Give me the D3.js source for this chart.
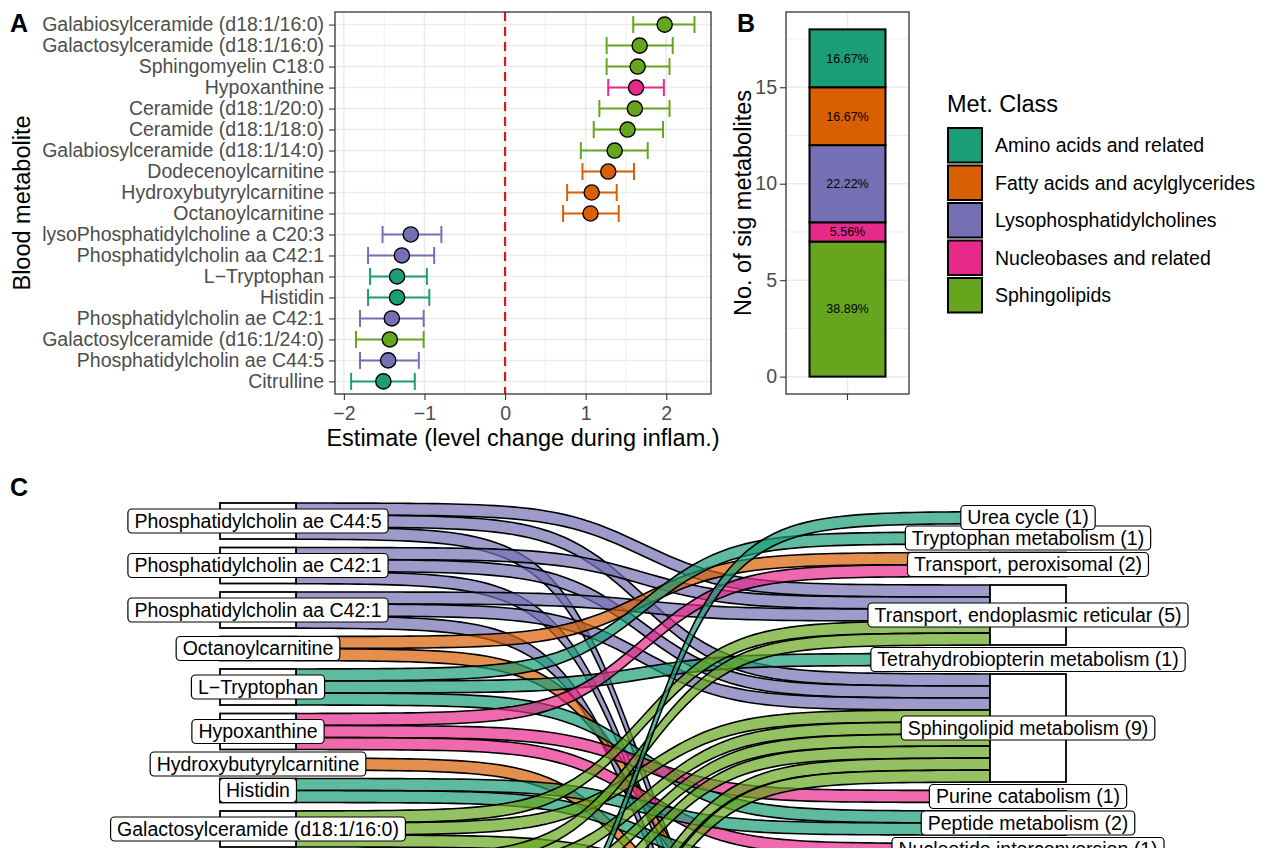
<!DOCTYPE html>
<html>
<head>
<meta charset="utf-8">
<script src="https://cdn.jsdelivr.net/npm/d3@7"></script>
<style>
body{margin:0;background:#fff;}
svg text{font-family:"Liberation Sans",Arial,Helvetica,sans-serif;}
</style>
</head>
<body>
<svg id="fig" width="1280" height="848"></svg>
<script>
// ---- classes (Dark2)
const classKeys = ['AA','FA','LPC','NB','SL'];
const classNames = ['Amino acids and related','Fatty acids and acylglycerides','Lysophosphatidylcholines','Nucleobases and related','Sphingolipids'];
const classColors = ['#1B9E77','#D95F02','#7570B3','#E7298A','#66A61E'];
const colorOf = k => classColors[classKeys.indexOf(k)];

// ---- panel A data (top to bottom)
const metabolites = ['Galabiosylceramide (d18:1/16:0)','Galactosylceramide (d18:1/16:0)','Sphingomyelin C18:0','Hypoxanthine',
  'Ceramide (d18:1/20:0)','Ceramide (d18:1/18:0)','Galabiosylceramide (d18:1/14:0)','Dodecenoylcarnitine',
  'Hydroxybutyrylcarnitine','Octanoylcarnitine','lysoPhosphatidylcholine a C20:3','Phosphatidylcholin aa C42:1',
  'L\u2212Tryptophan','Histidin','Phosphatidylcholin ae C42:1','Galactosylceramide (d16:1/24:0)',
  'Phosphatidylcholin ae C44:5','Citrulline'];
const metClass = ['SL','SL','SL','NB','SL','SL','SL','FA','FA','FA','LPC','LPC','AA','AA','LPC','SL','LPC','AA'];
const estimate = [1.98,1.67,1.645,1.625,1.61,1.52,1.36,1.28,1.075,1.06,-1.17,-1.28,-1.34,-1.34,-1.405,-1.43,-1.45,-1.51];
const ciLow    = [1.59,1.26,1.26,1.28,1.17,1.10,0.94,0.96,0.77,0.72,-1.52,-1.70,-1.675,-1.70,-1.80,-1.85,-1.80,-1.91];
const ciHigh   = [2.35,2.08,2.04,1.97,2.04,1.96,1.77,1.60,1.385,1.41,-0.79,-0.88,-0.97,-0.94,-1.01,-1.01,-1.07,-1.12];
const xTicksA = [-2,-1,0,1,2];
const xMinorA = [-1.5,-0.5,0.5,1.5,2.5];

// ---- panel B data
const classCounts = [3,3,4,1,7];
const yTicksB = [0,5,10,15];
const yMinorB = [2.5,7.5,12.5,17.5];

// ---- panel C data
const leftNodes = ['Phosphatidylcholin ae C44:5','Phosphatidylcholin ae C42:1','Phosphatidylcholin aa C42:1','Octanoylcarnitine',
  'L\u2212Tryptophan','Hypoxanthine','Hydroxybutyrylcarnitine','Histidin','Galactosylceramide (d18:1/16:0)',
  'Galactosylceramide (d16:1/24:0)','Galabiosylceramide (d18:1/16:0)','Galabiosylceramide (d18:1/14:0)',
  'Dodecenoylcarnitine','Citrulline','Ceramide (d18:1/20:0)','Ceramide (d18:1/18:0)'];
const leftClass = ['LPC','LPC','LPC','FA','AA','NB','FA','AA','SL','SL','SL','SL','FA','AA','SL','SL'];
const rightNodes = ['Urea cycle','Tryptophan metabolism','Transport, peroxisomal','Transport, endoplasmic reticular',
  'Tetrahydrobiopterin metabolism','Sphingolipid metabolism','Purine catabolism','Peptide metabolism',
  'Nucleotide interconversion','Histidine metabolism','Glycosphingolipid metabolism','Fatty acid oxidation',
  'Arginine and proline metabolism','Arachidonic acid metabolism'];
const links = [
  ['Phosphatidylcholin ae C44:5','Transport, endoplasmic reticular'],['Phosphatidylcholin ae C44:5','Sphingolipid metabolism'],['Phosphatidylcholin ae C44:5','Arachidonic acid metabolism'],
  ['Phosphatidylcholin ae C42:1','Transport, endoplasmic reticular'],['Phosphatidylcholin ae C42:1','Sphingolipid metabolism'],['Phosphatidylcholin ae C42:1','Arachidonic acid metabolism'],
  ['Phosphatidylcholin aa C42:1','Transport, endoplasmic reticular'],['Phosphatidylcholin aa C42:1','Sphingolipid metabolism'],['Phosphatidylcholin aa C42:1','Arachidonic acid metabolism'],
  ['Octanoylcarnitine','Transport, peroxisomal'],['Octanoylcarnitine','Fatty acid oxidation'],
  ['L\u2212Tryptophan','Tryptophan metabolism'],['L\u2212Tryptophan','Tetrahydrobiopterin metabolism'],['L\u2212Tryptophan','Peptide metabolism'],
  ['Hypoxanthine','Transport, peroxisomal'],['Hypoxanthine','Purine catabolism'],['Hypoxanthine','Nucleotide interconversion'],
  ['Hydroxybutyrylcarnitine','Fatty acid oxidation'],
  ['Histidin','Peptide metabolism'],['Histidin','Histidine metabolism'],
  ['Galactosylceramide (d18:1/16:0)','Transport, endoplasmic reticular'],['Galactosylceramide (d18:1/16:0)','Sphingolipid metabolism'],['Galactosylceramide (d18:1/16:0)','Glycosphingolipid metabolism'],
  ['Galactosylceramide (d16:1/24:0)','Transport, endoplasmic reticular'],['Galactosylceramide (d16:1/24:0)','Sphingolipid metabolism'],['Galactosylceramide (d16:1/24:0)','Glycosphingolipid metabolism'],
  ['Galabiosylceramide (d18:1/16:0)','Sphingolipid metabolism'],['Galabiosylceramide (d18:1/16:0)','Glycosphingolipid metabolism'],
  ['Galabiosylceramide (d18:1/14:0)','Sphingolipid metabolism'],['Galabiosylceramide (d18:1/14:0)','Glycosphingolipid metabolism'],
  ['Dodecenoylcarnitine','Fatty acid oxidation'],
  ['Citrulline','Urea cycle'],['Citrulline','Arginine and proline metabolism'],
  ['Ceramide (d18:1/20:0)','Sphingolipid metabolism'],
  ['Ceramide (d18:1/18:0)','Sphingolipid metabolism']
];

const W = 1280, H = 848;
const svg = d3.select('#fig');
const axisGrey = '#4d4d4d';
const gridCol = '#ebebeb';

function styleAxis(g){
  g.select('.domain').remove();
  g.selectAll('.tick line').attr('stroke','#333').attr('stroke-width',1.1);
  g.selectAll('.tick text').attr('fill',axisGrey).style('font-size','19.5px');
}

// =============== Panel A =================
const xA = d3.scaleLinear().domain([-2.11, 2.555]).range([335, 711]);
const yA = d3.scalePoint().domain(metabolites).range([12, 394]).padding(0.6);
const gA = svg.append('g');
const [ax0, ax1] = xA.range();
const [ay0, ay1] = yA.range();

gA.selectAll('.minor').data(xMinorA).enter().append('line')
  .attr('x1', d => xA(d)).attr('x2', d => xA(d)).attr('y1', ay0).attr('y2', ay1)
  .attr('stroke', gridCol).attr('stroke-width', 0.8);
gA.selectAll('.majorx').data(xTicksA).enter().append('line')
  .attr('x1', d => xA(d)).attr('x2', d => xA(d)).attr('y1', ay0).attr('y2', ay1)
  .attr('stroke', gridCol).attr('stroke-width', 1.5);
gA.selectAll('.majory').data(metabolites).enter().append('line')
  .attr('x1', ax0).attr('x2', ax1).attr('y1', d => yA(d)).attr('y2', d => yA(d))
  .attr('stroke', gridCol).attr('stroke-width', 1.5);

gA.append('line').attr('x1', xA(0)).attr('x2', xA(0)).attr('y1', ay0).attr('y2', ay1)
  .attr('stroke', '#d7191c').attr('stroke-width', 2.2).attr('stroke-dasharray', '9,6');

const rowsA = metabolites.map((m, i) => ({m, c: metClass[i], est: estimate[i], lo: ciLow[i], hi: ciHigh[i]}));
const capH = 8.5;
rowsA.forEach(d => {
  const y = yA(d.m), col = colorOf(d.c);
  gA.append('line').attr('x1', xA(d.lo)).attr('x2', xA(d.hi)).attr('y1', y).attr('y2', y).attr('stroke', col).attr('stroke-width', 2);
  gA.append('line').attr('x1', xA(d.lo)).attr('x2', xA(d.lo)).attr('y1', y - capH).attr('y2', y + capH).attr('stroke', col).attr('stroke-width', 2);
  gA.append('line').attr('x1', xA(d.hi)).attr('x2', xA(d.hi)).attr('y1', y - capH).attr('y2', y + capH).attr('stroke', col).attr('stroke-width', 2);
});
gA.selectAll('.pt').data(rowsA).enter().append('circle')
  .attr('cx', d => xA(d.est)).attr('cy', d => yA(d.m)).attr('r', 7.6)
  .attr('fill', d => colorOf(d.c)).attr('stroke', '#000').attr('stroke-width', 1.4);

gA.append('rect').attr('x', ax0).attr('y', ay0).attr('width', ax1 - ax0).attr('height', ay1 - ay0)
  .attr('fill', 'none').attr('stroke', '#333').attr('stroke-width', 1.3);

gA.append('g').attr('transform', `translate(${ax0},0)`)
  .call(d3.axisLeft(yA).tickSize(6).tickPadding(5)).call(styleAxis);
gA.append('g').attr('transform', `translate(0,${ay1})`)
  .call(d3.axisBottom(xA).tickValues(xTicksA).tickFormat(d3.format('d')).tickSize(6).tickPadding(6)).call(styleAxis);

gA.append('text').attr('x', (ax0 + ax1) / 2).attr('y', 446).attr('text-anchor', 'middle')
  .style('font-size', '23.5px').text('Estimate (level change during inflam.)');
gA.append('text').attr('transform', `translate(30,${(ay0 + ay1) / 2}) rotate(-90)`).attr('text-anchor', 'middle')
  .style('font-size', '23.5px').text('Blood metabolite');

// =============== Panel B =================
const xB = d3.scaleBand().domain(['all']).range([786, 909]).paddingInner(0).paddingOuter(0.2);
const yB = d3.scaleLinear().domain([-0.9, 18.9]).range([394, 12]);
const gB = svg.append('g');
const [bx0, bx1] = xB.range();

gB.selectAll('.minor').data(yMinorB).enter().append('line')
  .attr('x1', bx0).attr('x2', bx1).attr('y1', d => yB(d)).attr('y2', d => yB(d))
  .attr('stroke', gridCol).attr('stroke-width', 0.8);
gB.selectAll('.major').data(yTicksB).enter().append('line')
  .attr('x1', bx0).attr('x2', bx1).attr('y1', d => yB(d)).attr('y2', d => yB(d))
  .attr('stroke', gridCol).attr('stroke-width', 1.5);
gB.append('line').attr('x1', xB('all') + xB.bandwidth() / 2).attr('x2', xB('all') + xB.bandwidth() / 2)
  .attr('y1', 12).attr('y2', 394).attr('stroke', gridCol).attr('stroke-width', 1.5);

const totalB = d3.sum(classCounts);
// stacked: first class on top
let cum = 0;
const segs = classKeys.map((k, i) => ({k, n: classCounts[i]})).reverse().map(d => {
  const s = {k: d.k, n: d.n, y0: cum, y1: cum + d.n}; cum += d.n; return s;
});
const barW = 76;
const barX = xB('all') + xB.bandwidth() / 2 - barW / 2;
gB.selectAll('.seg').data(segs).enter().append('rect')
  .attr('x', barX).attr('width', barW)
  .attr('y', d => yB(d.y1)).attr('height', d => yB(d.y0) - yB(d.y1))
  .attr('fill', d => colorOf(d.k)).attr('stroke', '#000').attr('stroke-width', 2);
gB.selectAll('.pct').data(segs).enter().append('text')
  .attr('x', barX + barW / 2).attr('y', d => yB((d.y0 + d.y1) / 2)).attr('dy', '0.35em')
  .attr('text-anchor', 'middle').style('font-size', '12.5px')
  .text(d => (d.n / totalB * 100).toFixed(2) + '%');

gB.append('rect').attr('x', bx0).attr('y', 12).attr('width', bx1 - bx0).attr('height', 382)
  .attr('fill', 'none').attr('stroke', '#333').attr('stroke-width', 1.3);
gB.append('g').attr('transform', `translate(${bx0},0)`)
  .call(d3.axisLeft(yB).tickValues(yTicksB).tickSize(6).tickPadding(3)).call(styleAxis);
gB.append('g').attr('transform', 'translate(0,394)')
  .call(d3.axisBottom(xB).tickSize(6).tickFormat('')).call(styleAxis);
gB.append('text').attr('transform', 'translate(751,203) rotate(-90)').attr('text-anchor', 'middle')
  .style('font-size', '23.5px').text('No. of sig metabolites');

// legend
const gL = svg.append('g').attr('transform', 'translate(947,0)');
gL.append('text').attr('x', 0).attr('y', 112).style('font-size', '23.5px').text('Met. Class');
const keyY = d3.scaleBand().domain(classKeys).range([126.5, 314]);
gL.selectAll('.key').data(classKeys).enter().append('rect')
  .attr('x', 1).attr('y', d => keyY(d) + 1.5).attr('width', 34).attr('height', keyY.bandwidth() - 3)
  .attr('fill', d => colorOf(d)).attr('stroke', '#000').attr('stroke-width', 2);
gL.selectAll('.klab').data(classKeys).enter().append('text')
  .attr('x', 48).attr('y', d => keyY(d) + keyY.bandwidth() / 2).attr('dy', '0.35em')
  .style('font-size', '19.5px').text((d, i) => classNames[i]);

// =============== Panel C =================
const gC = svg.append('g');
const space = 8.5 / 12;   // gap between nodes, in flow units
function stackNodes(names, side){
  let y = 0;
  return names.map((name, i) => {
    const n = links.filter(l => l[side] === name).length;
    const node = {name, i, n, y0: y, y1: y + n};
    y += n + space;
    return node;
  });
}
const L = stackNodes(leftNodes, 0);
const R = stackNodes(rightNodes, 1);
const leftTotal = L[L.length - 1].y1, rightTotal = R[R.length - 1].y1;
const shift = (leftTotal - rightTotal) / 2;
R.forEach(n => { n.y0 += shift; n.y1 += shift; });

const yC = d3.scaleLinear().domain([0, leftTotal]).range([503, 503 + 12 * leftTotal]);
const xC = d3.scaleLinear().domain([0, 1]).range([258, 1028]);
const nodeW = 76;

const flows = links.map(([s, t]) => ({src: s, tgt: t, s: leftNodes.indexOf(s), t: rightNodes.indexOf(t)}));
L.forEach(node => flows.filter(f => f.src === node.name).sort((a, b) => a.t - b.t).forEach((f, k) => { f.ly = node.y0 + k; }));
R.forEach(node => flows.filter(f => f.tgt === node.name).sort((a, b) => a.s - b.s).forEach((f, k) => { f.ry = node.y0 + k; }));

const steps = d3.range(0, 81).map(i => i / 80);
const logistic = p => 1 / (1 + Math.exp(-(-8 + 16 * p)));
const xa = xC(0) + nodeW / 2, xb = xC(1) - nodeW / 2;
function ribbon(f){
  const top = steps.map(p => [xa + (xb - xa) * p, yC(f.ly + (f.ry - f.ly) * logistic(p))]);
  const bot = steps.slice().reverse().map(p => [xa + (xb - xa) * p, yC(f.ly + 1 + (f.ry - f.ly) * logistic(p))]);
  return d3.line()(top.concat(bot)) + 'Z';
}
gC.selectAll('.flow').data(flows).enter().append('path')
  .attr('d', ribbon)
  .attr('fill', d => colorOf(leftClass[d.s])).attr('fill-opacity', 0.7)
  .attr('stroke', '#000').attr('stroke-width', 1.6);

gC.selectAll('.lnode').data(L).enter().append('rect')
  .attr('x', xC(0) - nodeW / 2).attr('width', nodeW)
  .attr('y', d => yC(d.y0)).attr('height', d => yC(d.y1) - yC(d.y0))
  .attr('fill', '#fff').attr('stroke', '#000').attr('stroke-width', 1.8);
gC.selectAll('.rnode').data(R).enter().append('rect')
  .attr('x', xC(1) - nodeW / 2).attr('width', nodeW)
  .attr('y', d => yC(d.y0)).attr('height', d => yC(d.y1) - yC(d.y0))
  .attr('fill', '#fff').attr('stroke', '#000').attr('stroke-width', 1.8);

// labels of nodes that lie below the picture edge are not drawn
function nodeLabel(x, node, txt){
  const cy = yC((node.y0 + node.y1) / 2);
  if (cy - 12 >= H) return;
  const g = gC.append('g');
  const t = g.append('text').attr('x', x).attr('y', cy).attr('dy', '0.35em')
    .attr('text-anchor', 'middle').style('font-size', '19.5px').text(txt);
  const w = t.node().getComputedTextLength() + 13;
  g.insert('rect', 'text').attr('x', x - w / 2).attr('y', cy - 12)
    .attr('width', w).attr('height', 24).attr('rx', 4)
    .attr('fill', '#fff').attr('stroke', '#000').attr('stroke-width', 1.2);
}
L.slice().reverse().forEach(n => nodeLabel(xC(0), n, n.name));
R.slice().reverse().forEach(n => nodeLabel(xC(1), n, `${n.name} (${n.n})`));

// panel tags
[['A', 10, 32], ['B', 737, 32], ['C', 10, 496]].forEach(([t, x, y]) => {
  svg.append('text').attr('x', x).attr('y', y).style('font-size', '25px').style('font-weight', 'bold').text(t);
});
</script>
</body>
</html>
